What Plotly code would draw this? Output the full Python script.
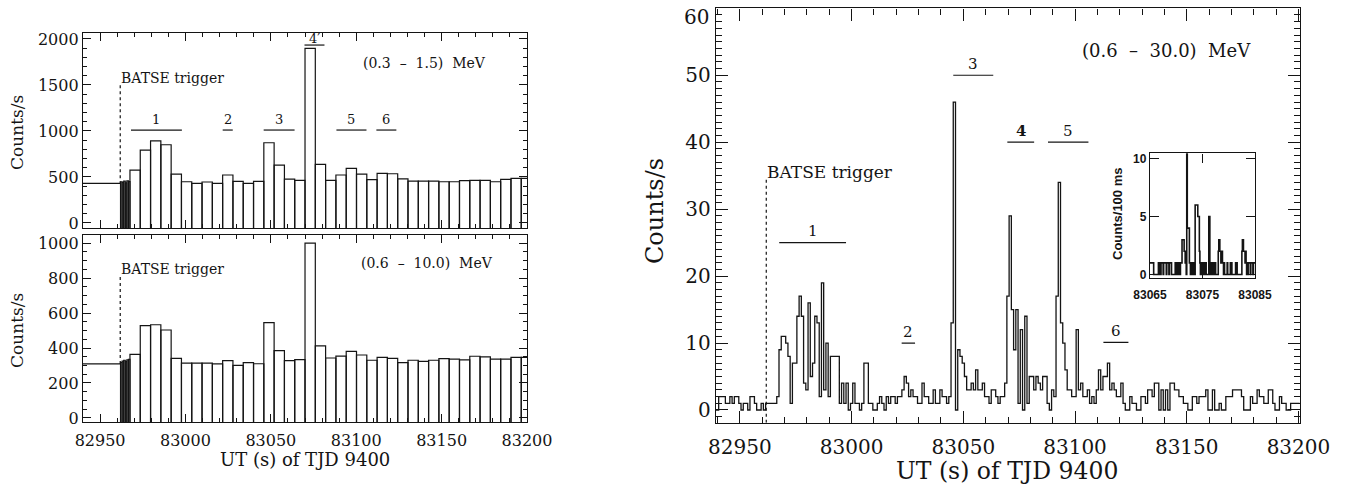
import numpy as np
import plotly.graph_objects as go

# ---------------------------------------------------------------------------
# Light curves of the burst of TJD 9400 (UT seconds of day)
# ---------------------------------------------------------------------------

# Coarse spectrometer rates (counts/s): one wide pre-trigger bin, a run of
# fine bins straddling the trigger, then ~6 s accumulation bins.
pre_edges = [82938.0, 82962.0]
fine_t0, fine_dt = 82962.0, 5.5 / 6
coarse_t0, coarse_dt = 82967.5, 6.03

low_pre = [430]
low_fine = [448, 440, 455, 436, 458, 450]
low_coarse = [575, 792, 893, 850, 531, 448, 430, 445, 430, 521,
              452, 430, 452, 872, 629, 477, 463, 1898, 637, 463,
              521, 593, 531, 470, 539, 535, 480, 455, 455, 455,
              448, 448, 459, 463, 463, 448, 474, 485, 485]

mid_pre = [309]
mid_fine = [318, 325, 330, 322, 332, 335]
mid_coarse = [364, 528, 533, 503, 341, 313, 313, 313, 309, 328,
              301, 316, 310, 545, 385, 328, 333, 999, 412, 343,
              354, 381, 360, 330, 347, 341, 316, 330, 324, 330,
              339, 336, 332, 353, 349, 336, 336, 347, 347]

# 1 s binned rates, (0.6 - 30.0) MeV
hi_t0, hi_dt = 82938.5, 1.0
hi_counts = [
    0, 0, 2, 2, 2, 1, 1, 2, 1, 2, 2, 1, 0, 1, 1, 0, 2, 2, 1, 0,
    0, 1, 0, 1, 1, 1, 1, 1, 2, 9, 11, 11, 10, 8, 1, 7, 7, 14, 17, 14,
    4, 3, 16, 5, 7, 14, 13, 2, 19, 3, 10, 2, 8, 8, 8, 8, 1, 4, 1, 4,
    0, 1, 4, 1, 1, 0, 1, 7, 7, 1, 1, 0, 0, 1, 2, 1, 0, 2, 1, 2,
    2, 1, 2, 2, 3, 5, 4, 2, 3, 2, 2, 1, 1, 4, 2, 2, 1, 1, 3, 1,
    1, 3, 2, 2, 1, 2, 13, 46, 0, 9, 8, 7, 5, 3, 3, 4, 3, 6, 3, 3,
    4, 2, 2, 1, 3, 3, 2, 1, 2, 2, 4, 17, 29, 15, 9, 15, 1, 12, 0, 14,
    1, 5, 5, 3, 5, 4, 3, 5, 5, 1, 0, 3, 2, 17, 34, 13, 10, 6, 3, 3,
    2, 2, 12, 3, 4, 2, 2, 3, 1, 2, 1, 3, 6, 3, 5, 5, 7, 3, 4, 3,
    2, 2, 4, 1, 0, 0, 2, 1, 1, 0, 0, 2, 2, 1, 3, 3, 2, 4, 4, 0,
    3, 0, 3, 0, 4, 4, 3, 3, 2, 2, 1, 1, 0, 0, 2, 2, 1, 2, 2, 2,
    3, 0, 0, 3, 0, 0, 1, 0, 0, 2, 2, 2, 3, 3, 3, 3, 2, 0, 0, 0,
    2, 1, 1, 3, 2, 2, 1, 1, 3, 3, 1, 0, 0, 2, 1, 1, 0, 0, 1, 1,
    1, 1,
]

# 100 ms counts around pulses 4 and 5
ins_t0, ins_dt = 83065.0, 0.1
ins_counts = [
    1, 1, 1, 1, 1, 1, 1, 0, 0, 0,
    0, 0, 0, 0, 0, 0, 1, 1, 1, 0,
    0, 1, 1, 1, 1, 0, 1, 1, 1, 1,
    1, 0, 1, 1, 1, 1, 0, 1, 1, 1,
    1, 0, 0, 0, 0, 0, 0, 0, 1, 1,
    1, 0, 1, 0, 0, 1, 1, 0, 1, 1,
    1, 3, 3, 3, 3, 2, 2, 1, 2, 0,
    11, 4, 4, 4, 4, 1, 1, 0, 1, 0,
    0, 1, 1, 1, 0, 0, 6, 6, 6, 6,
    6, 5, 5, 5, 2, 1, 0, 1, 1, 0,
    0, 1, 1, 0, 0, 0, 1, 0, 0, 0,
    0, 0, 5, 5, 0, 1, 1, 0, 1, 1,
    0, 0, 1, 1, 1, 0, 0, 0, 0, 0,
    2, 3, 3, 2, 2, 1, 2, 2, 1, 1,
    0, 1, 0, 0, 0, 0, 0, 1, 0, 0,
    0, 0, 0, 1, 1, 1, 0, 0, 0, 0,
    0, 0, 0, 1, 1, 1, 0, 0, 0, 0,
    0, 0, 0, 0, 0, 2, 3, 3, 2, 2,
    2, 1, 2, 1, 0, 0, 0, 1, 1, 1,
    1, 0, 1, 1, 1, 1, 0, 1, 1, 1,
]

trigger_time = 82961.8

# Pulse intervals: (label, start, end)
pulses_low = [("1", 82968.1, 82997.9), ("2", 83021.8, 83027.7),
              ("3", 83045.8, 83063.9), ("4\u2032", 83069.7, 83081.4),
              ("5", 83088.4, 83106.0), ("6", 83111.8, 83123.5)]
pulses_hi = [("1", 82967.6, 82997.5), ("2", 83022.4, 83028.4),
             ("3", 83045.5, 83063.4), ("4", 83069.7, 83081.7),
             ("5", 83087.9, 83106.0), ("6", 83112.7, 83123.9)]

hi_tick_vals = [0, 10, 20, 30, 40, 50]
hi_top_label = "60"

# ---------------------------------------------------------------------------
W, H = 1353, 489
INK = "#141414"
SERIF = "DejaVu Serif"

LOW_RANGE = [-55, 2065]
MID_RANGE = [-23, 1046]
HI_RANGE = [-1.9, 60.0]
INS_RANGE = [-0.33, 10.46]


def px(x):
    return x / W


def py(y):
    return 1 - y / H


def histogram_outline(edges, values, floor):
    xs, ys = [], []
    for left, right, v in zip(edges[:-1], edges[1:], values):
        xs += [left, left, right, right, None]
        ys += [floor, v, v, floor, None]
    return xs, ys


n_fine = len(low_fine)
coarse_edges = [coarse_t0 + k * coarse_dt for k in range(len(low_coarse) + 1)]
fine_edges = [fine_t0 + k * fine_dt for k in range(n_fine + 1)]
edges_lr = pre_edges[:1] + fine_edges + coarse_edges[1:]

fig = go.Figure()

xs, ys = histogram_outline(edges_lr, low_pre + low_fine + low_coarse, LOW_RANGE[0])
fig.add_trace(go.Scatter(x=xs, y=ys, mode="lines", xaxis="x", yaxis="y",
                         line=dict(color=INK, width=1.2), hoverinfo="skip"))

xs, ys = histogram_outline(edges_lr, mid_pre + mid_fine + mid_coarse, MID_RANGE[0])
fig.add_trace(go.Scatter(x=xs, y=ys, mode="lines", xaxis="x2", yaxis="y2",
                         line=dict(color=INK, width=1.2), hoverinfo="skip"))

hi_edges = hi_t0 + hi_dt * np.arange(len(hi_counts) + 1)
fig.add_trace(go.Scatter(x=hi_edges, y=hi_counts + hi_counts[-1:], mode="lines",
                         xaxis="x3", yaxis="y3", line_shape="hv",
                         line=dict(color=INK, width=1.3), hoverinfo="skip"))

ins_edges = ins_t0 + ins_dt * np.arange(len(ins_counts) + 1)
fig.add_trace(go.Scatter(x=ins_edges, y=ins_counts + ins_counts[-1:], mode="lines",
                         xaxis="x4", yaxis="y4", line_shape="hv",
                         line=dict(color=INK, width=1.6), hoverinfo="skip"))

axis_common = dict(showline=True, linecolor=INK, linewidth=1.4, mirror="allticks",
                   ticks="inside", tickcolor=INK, showgrid=False, zeroline=False,
                   tickformat="d", automargin=False)

left_x = dict(axis_common, domain=[px(83), px(527)], range=[82940, 83200],
              tick0=82950, dtick=50, ticklen=8, tickwidth=1.2, ticklabelstandoff=4,
              minor=dict(ticks="inside", ticklen=4, tickwidth=1, tickcolor=INK,
                         tick0=82950, dtick=10, showgrid=False),
              tickfont=dict(family=SERIF, size=16, color=INK))
right_x = dict(axis_common, domain=[px(716), px(1300)], range=[82939.3, 83200.7],
               tick0=82950, dtick=50, ticklen=12, tickwidth=1.3, ticklabelstandoff=6,
               minor=dict(ticks="inside", ticklen=6, tickwidth=1, tickcolor=INK,
                          tick0=82950, dtick=10, showgrid=False),
               tickfont=dict(family=SERIF, size=20, color=INK))

fig.update_layout(
    width=W, height=H, margin=dict(l=0, r=0, t=0, b=0),
    paper_bgcolor="white", plot_bgcolor="rgba(0,0,0,0)", showlegend=False,
    xaxis=dict(left_x, anchor="y", showticklabels=False),
    yaxis=dict(axis_common, domain=[py(228), py(33)], range=LOW_RANGE, anchor="x",
               tick0=0, dtick=500, ticklen=8, tickwidth=1.2,
               minor=dict(ticks="inside", ticklen=4, tickwidth=1, tickcolor=INK,
                          tick0=0, dtick=100, showgrid=False),
               tickfont=dict(family=SERIF, size=16, color=INK)),
    xaxis2=dict(left_x, anchor="y2"),
    yaxis2=dict(axis_common, domain=[py(422), py(235)], range=MID_RANGE, anchor="x2",
                tick0=0, dtick=200, ticklen=8, tickwidth=1.2,
                minor=dict(ticks="inside", ticklen=4, tickwidth=1, tickcolor=INK,
                           tick0=0, dtick=50, showgrid=False),
                tickfont=dict(family=SERIF, size=16, color=INK)),
    xaxis3=dict(right_x, anchor="y3"),
    yaxis3=dict(axis_common, domain=[py(422.7), py(8.3)], range=HI_RANGE, anchor="x3",
                tickmode="array", tickvals=hi_tick_vals, ticklen=12, tickwidth=1.3,
                minor=dict(ticks="inside", ticklen=6, tickwidth=1, tickcolor=INK,
                           tickmode="linear", tick0=0, dtick=1, showgrid=False),
                tickfont=dict(family=SERIF, size=20, color=INK)),
    xaxis4=dict(axis_common, domain=[px(1150), px(1255)], range=[83065, 83085],
                anchor="y4", tickvals=[83065, 83075, 83085], ticklen=9, tickwidth=1.2,
                ticklabelstandoff=5,
                tickfont=dict(family="Liberation Sans", size=12, color=INK, weight="bold")),
    yaxis4=dict(axis_common, domain=[py(278.3), py(153.3)], range=INS_RANGE,
                anchor="x4", tickvals=[0, 5, 10], ticklen=9, tickwidth=1.2,
                tickfont=dict(family="Liberation Sans", size=12, color=INK, weight="bold")),
)

annotations = []
shapes = []


def text(x, y, s, size, xref="paper", yref="paper", angle=0, xanchor="center",
         family=SERIF, weight="normal"):
    annotations.append(dict(x=x, y=y, xref=xref, yref=yref, text=s, showarrow=False,
                            textangle=angle, xanchor=xanchor, yanchor="middle",
                            font=dict(family=family, size=size, color=INK, weight=weight)))


def segment(x0, x1, y0, y1, xref, yref, width=1.2, dash="solid"):
    shapes.append(dict(type="line", x0=x0, x1=x1, y0=y0, y1=y1, xref=xref, yref=yref,
                       line=dict(color=INK, width=width, dash=dash)))


# Axis titles
text(px(17), py(133), "Counts/s", 17, angle=-90)
text(px(17), py(331), "Counts/s", 17, angle=-90)
text(px(305), py(459), "UT (s) of TJD 9400", 18)
text(px(655), py(211), "Counts/s", 24, angle=-90)
text(px(1007), py(471), "UT (s) of TJD 9400", 23.5)
text(px(1117), py(214), "Counts/100 ms", 13, angle=-90, family="Liberation Sans",
     weight="bold")

# Top label of the right-hand count axis, set just inside the figure edge
annotations.append(dict(x=px(711), y=py(17), xref="paper", yref="paper",
                        text=hi_top_label, showarrow=False, xanchor="right",
                        yanchor="middle", font=dict(family=SERIF, size=20, color=INK)))

NB = "\u00a0"
# Energy bands
text(83139.8, 1738, f"(0.3{NB}{NB}–{NB}{NB}1.5){NB}{NB}MeV", 14, "x", "y")
text(83141.6, 886, f"(0.6{NB}{NB}–{NB}{NB}10.0){NB}{NB}MeV", 14, "x2", "y2")
text(83141.0, 53.7, f"(0.6{NB}{NB}–{NB}{NB}30.0){NB}{NB}MeV", 18, "x3", "y3")

# Trigger markers
text(trigger_time - 0.6, 1575, "BATSE trigger", 14, "x", "y", xanchor="left")
text(trigger_time - 0.6, 852, "BATSE trigger", 14, "x2", "y2", xanchor="left")
text(trigger_time - 0.6, 35.6, "BATSE trigger", 17, "x3", "y3", xanchor="left")
segment(trigger_time, trigger_time, 1498, low_pre[0], "x", "y", 1.2, "dot")
segment(trigger_time, trigger_time, 806, mid_pre[0], "x2", "y2", 1.2, "dot")
segment(trigger_time, trigger_time, 34.4, HI_RANGE[0], "x3", "y3", 1.2, "dot")

# Pulse markers
for label, t0, t1 in pulses_low:
    tall = label.startswith("4")
    bar_y, lab_y = (1934, 2002) if tall else (1010, 1129)
    segment(t0, t1, bar_y, bar_y, "x", "y", 1.2)
    text((t0 + t1) / 2, lab_y, label, 13, "x", "y")

for label, t0, t1 in pulses_hi:
    bar_y = {"1": 25.0, "2": 10.0, "3": 50.0, "4": 40.0, "5": 40.0, "6": 10.1}[label]
    segment(t0, t1, bar_y, bar_y, "x3", "y3", 1.2)
    text((t0 + t1) / 2, bar_y + 1.7, label, 15, "x3", "y3",
         weight="bold" if label == "4" else "normal")

fig.update_layout(annotations=annotations, shapes=shapes)
fig.write_html("out.html")
